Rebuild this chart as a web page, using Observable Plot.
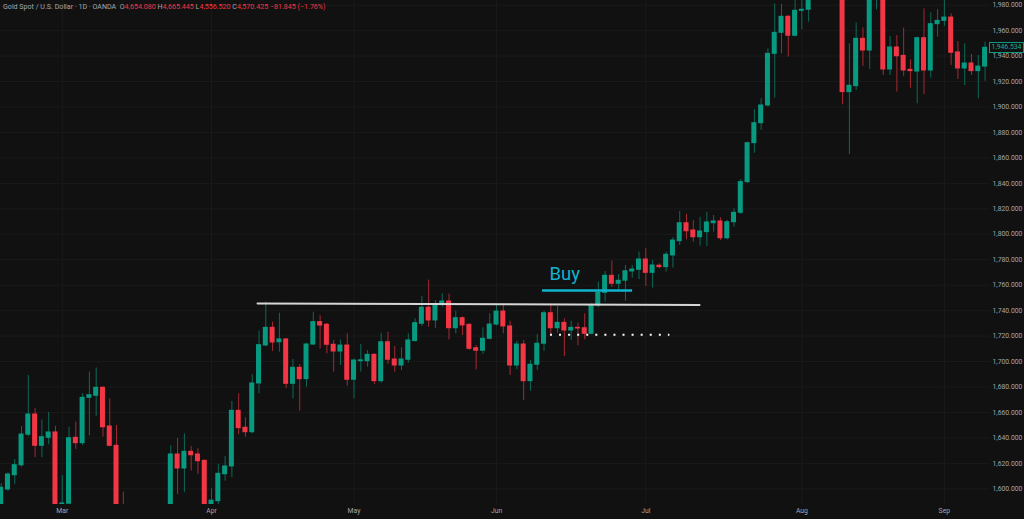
<!DOCTYPE html>
<html><head><meta charset="utf-8">
<script src="https://cdn.jsdelivr.net/npm/d3@7"></script>
<script src="https://cdn.jsdelivr.net/npm/@observablehq/plot@0.6"></script>
<style>
html,body{margin:0;padding:0;background:#111111;}
#wrap{position:relative;width:1024px;height:519px;overflow:hidden;background:#111111;}
#hdr{position:absolute;left:3px;top:3px;font-family:Roboto,sans-serif;font-size:7.1px;color:#a3a6af;white-space:nowrap;line-height:8px;}
#hdr .r{color:#f23645}
#last{position:absolute;left:989px;width:33px;height:9px;border:1px solid #089981;color:#1cae93;background:#111111;font-family:Roboto,sans-serif;font-size:6.8px;line-height:9px;text-align:center;}
</style></head><body><div id="wrap"><div id="hdr"></div></div>
<script>
// ---- header texts
const title = "Gold Spot / U.S. Dollar · 1D · OANDA";
const ohlcLetters = ["O","H","L","C"];
const ohlcValues = ["4,654.080","4,665.445","4,556.520","4,570.425"];
const changeText = "−81.845 (−1.76%)";

// ---- axis ticks
const priceTicks = [1600,1620,1640,1660,1680,1700,1720,1740,1760,1780,1800,1820,1840,1860,1880,1900,1920,1940,1960,1980];
const monthLabels = ["Mar","Apr","May","Jun","Jul","Aug","Sep"];
const monthIdx = [9,31,52,73,95,118,139];

// ---- daily candles (index = trading day)
const open = [1585,1599.5,1610.7,1618.5,1642.5,1658.4,1633.8,1640.1,1644.3,1584,
1588.3,1640.1,1635.9,1671.5,1673.1,1679.4,1649,1633.8,1580,1568,
1548,1530,1552,1560,1575,1565,1627,1616,1629.1,1627,
1622,1582,1590.3,1611.5,1617.6,1661.3,1648,1644.5,1682.8,1712.6,
1726.5,1715.2,1717.4,1682.5,1695.1,1686.2,1713.4,1731,1728.9,1713.2,
1707.9,1712.6,1685.7,1700.3,1700.3,1705.3,1684.6,1715.2,1701.6,1696.9,
1701.4,1716.1,1729.7,1742.3,1732.3,1744.6,1747.2,1726.2,1734.1,1728.9,
1710.5,1708.5,1717.9,1729.1,1739.3,1727.6,1696.9,1713.4,1684.6,1697.5,
1714,1738,1726.2,1730.4,1724.4,1726.5,1726.2,1721.8,1744,1754,
1767.4,1761.1,1763.5,1770.8,1772.1,1780.2,1769.7,1775.3,1774.2,1783.4,
1794.6,1808.7,1803,1797.7,1801.7,1808.7,1810.1,1796.9,1809.5,1816.9,
1841,1871.6,1887.3,1901.2,1941.8,1958.3,1970.9,1956,1975.6,1976.4,
1992,2010,2032,2050,2012,1911.7,1916.4,1953.6,1944.4,1990,
2000,1929.5,1946.8,1940.2,1929.2,1927.9,1954.1,1928.7,1965.1,1967.7,
1970.3,1942.9,1930.3,1934.2,1928.2,1931.8];
const high = [1604,1612.5,1623,1649,1689,1663,1654,1660,1649,1610.5,
1648.4,1652.4,1674.7,1691.7,1695,1680,1670.7,1649.8,1597.4,1584,
1572,1560,1578,1583,1585,1633.8,1639.6,1643.2,1633.3,1631.5,
1622.7,1600,1619.2,1625.4,1668.6,1674.7,1655.8,1689.8,1724,1746.7,
1731,1738,1718,1701.6,1697.7,1714.5,1738.8,1736,1730,1716.6,
1717,1721.8,1702,1713.4,1708.7,1706,1722.3,1723.1,1711.8,1710.8,
1721.8,1733.6,1751.1,1764,1748,1753.3,1753,1739.6,1735,1729.5,
1712.6,1726.5,1737.5,1744,1744,1731.7,1716,1716.6,1700.8,1721.3,
1739.6,1744.6,1743.3,1733.6,1731.7,1730.2,1737.5,1745.4,1762.4,1770.8,
1779,1768.4,1775.5,1775.5,1786,1788.6,1779.4,1776.8,1786,1797.3,
1817.9,1815.6,1810.8,1813.4,1817.4,1814.8,1813,1811,1820,1843.1,
1872.5,1897.8,1906.5,1945.7,1981,1980.6,1972,1988,1990,1995,
2015,2040,2060,2065,2020,1949.7,1966.2,1962.2,1998,2010,
2005,1955.4,1956.2,1962,1937.1,1955,1977.2,1974,1976.6,1985,
1973.2,1951.5,1949.7,1941.3,1940.5,1951];
const low = [1578,1598,1603.5,1617,1641,1624.4,1624.5,1634.6,1578,1580,
1586,1631,1634,1641.7,1657,1640.6,1633,1575,1555,1540,
1520,1510,1535,1545,1550,1560,1595.6,1597,1614,1611.3,
1575,1578,1587,1606,1608.7,1642.5,1640.6,1643.2,1674.7,1712,
1708,1707.4,1679,1670.7,1661,1680,1712.6,1710,1706,1691.7,
1697,1680.7,1670.7,1691.7,1695.6,1682,1683,1697.7,1691.7,1693,
1698.7,1715.5,1727.6,1727,1726,1742.7,1717,1721.8,1720.5,1708.7,
1693.5,1705.6,1717,1728,1721.8,1689,1693.5,1669.4,1676.7,1693,
1708,1721,1722.3,1704,1716.6,1712.4,1717.1,1721,1742.3,1746.7,
1758.4,1755,1747.5,1765.5,1764.3,1759,1757.7,1772.9,1770.2,1773.4,
1791.2,1795.7,1793.8,1790.7,1790.4,1801.7,1795.1,1795.7,1805.6,1815.6,
1840,1863.7,1881.6,1899.9,1907,1941.8,1939.2,1955,1960.7,1966.7,
1988,2000,2020,2005,1901.7,1862.7,1913,1932,1929.5,1976.4,
1924.8,1924.8,1911.7,1924,1914.8,1902.5,1909.8,1922.7,1954.9,1963.3,
1932.6,1921.6,1916.9,1924.8,1906.5,1920.3];
const close = [1600.8,1611.3,1618.6,1642.7,1658.4,1633.8,1640.6,1644.3,1584,1588.5,
1639.8,1635.9,1671.5,1673.6,1679.4,1648.4,1633.8,1580,1568,1548,
1530,1552,1560,1575,1565,1627,1616,1629.1,1626.4,1621.7,
1582,1590.7,1611.8,1617.6,1661.3,1647.7,1644.5,1682.8,1712.9,1726.5,
1715,1717.4,1682.5,1695.1,1686.2,1713.4,1731,1728.3,1713.2,1707.9,
1712.6,1685.7,1700.8,1701,1705.3,1684.6,1715.2,1701.4,1696.9,1701.6,
1716.6,1730.2,1742.3,1732.3,1745,1747.2,1726.2,1734.1,1728.4,1710,
1708.5,1717.9,1729.1,1739.3,1727.6,1696.9,1713.4,1684.6,1697.5,1714,
1738,1726.2,1730.4,1724.4,1726.5,1726,1721.8,1744,1754,1767.4,
1761.1,1763.5,1771,1772.3,1780.2,1769.7,1775.5,1774.2,1783.9,1795.1,
1808.7,1802.4,1797.7,1802.2,1809.3,1810.1,1796.9,1809.5,1816.9,1841,
1871.6,1887.3,1901.2,1941.8,1958.3,1970.9,1956,1975.6,1976.4,1992,
2010,2032,2050,2012,1911.7,1916.7,1953.6,1944.4,1990,2000,
1929.5,1946.8,1939.9,1928.7,1928.2,1954.1,1928.7,1965.1,1967.7,1970.3,
1942.6,1930.3,1934.2,1928.2,1931.8,1946.534];

// ---- annotations (candle index, price)
const resistanceX = [37.78, 102.92];
const resistanceY = [1745.6, 1744.5];
const buyLabel = "Buy";
const buyLineX = [79.78, 93.05];
const buyLevel = 1755.8;
const buyTextAt = [80.8, 1768.4];
const stopLineX = [80.95, 98.55];
const stopLevel = 1721.0;

const UP = "#089981", DOWN = "#f23645", GRID = "#1a1a1a";
const candles = open.map((o, i) => ({i, o, h: high[i], l: low[i], c: close[i], up: close[i] >= o}));

const chart = Plot.plot({
  width: 1024, height: 519,
  marginTop: 0, marginBottom: 15, marginLeft: 0, marginRight: 34,
  style: {background: "#111111", color: "#a3a6af", fontFamily: "Roboto, sans-serif", fontSize: "6.8px"},
  x: {type: "linear", domain: [-0.1, 145.8]},
  y: {domain: [1587.7, 1983.7]},
  marks: [
    Plot.ruleY(priceTicks, {stroke: GRID, strokeWidth: 1}),
    Plot.ruleX(monthIdx, {stroke: GRID, strokeWidth: 1}),
    Plot.ruleX(candles, {x: "i", y1: "l", y2: "h", stroke: d => d.up ? UP : DOWN, strokeOpacity: 0.65, strokeWidth: 1, clip: true}),
    Plot.rect(candles, {x1: d => d.i - 0.37, x2: d => d.i + 0.37, y1: d => Math.min(d.o, d.c), y2: d => Math.max(d.o, d.c),
      fill: d => d.up ? UP : DOWN, insetTop: -0.5, insetBottom: -0.5, clip: true}),
    Plot.line(resistanceX.map((x, k) => ({x, y: resistanceY[k]})), {x: "x", y: "y", stroke: "#d6d6d6", strokeWidth: 2}),
    Plot.ruleY([buyLevel], {x1: buyLineX[0], x2: buyLineX[1], stroke: "#10b3cd", strokeWidth: 2.5}),
    Plot.text([buyLabel], {x: buyTextAt[0], y: buyTextAt[1], text: d => d, textAnchor: "start", fill: "#10b3cd", fontSize: 18.5, fontFamily: "Roboto, sans-serif"}),
    Plot.ruleY([stopLevel], {x1: stopLineX[0], x2: stopLineX[1], stroke: "#ffffff", strokeWidth: 2, strokeDasharray: "2,7.07"}),
    Plot.axisY(priceTicks, {anchor: "right", tickSize: 0, tickPadding: 2, tickFormat: d3.format(",.3f"), fill: "#a3a6af"}),
    Plot.axisX(monthIdx, {anchor: "bottom", tickSize: 0, tickPadding: 4, tickFormat: d => monthLabels[monthIdx.indexOf(d)], fill: "#a3a6af"})
  ]
});
const wrap = document.getElementById("wrap");
wrap.insertBefore(chart, wrap.firstChild);

const hdr = document.getElementById("hdr");
hdr.innerHTML = title + "&nbsp;&nbsp;" + ohlcLetters.map((l, k) => l + '<span class="r">' + ohlcValues[k] + "</span>").join(" ") + ' <span class="r">' + changeText + "</span>";

const lastY = chart.scale("y").apply(close[close.length - 1]);
const last = document.createElement("div");
last.id = "last";
last.textContent = d3.format(",.3f")(close[close.length - 1]);
last.style.top = (lastY - 5.5) + "px";
wrap.appendChild(last);
</script>
</body></html>
